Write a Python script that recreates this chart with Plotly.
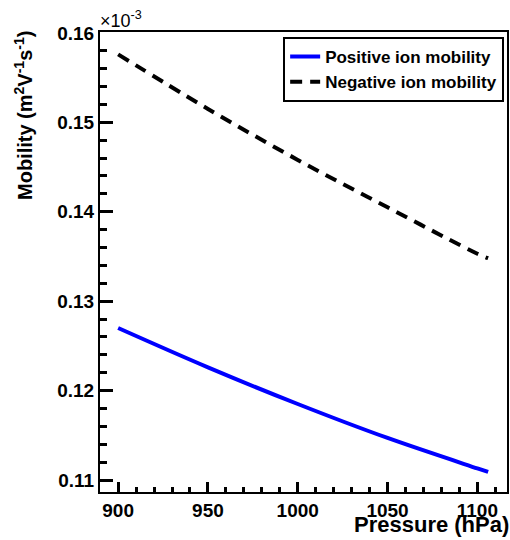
import plotly.graph_objects as go

pressure = [900, 950, 1000, 1050, 1100, 1106]
positive_mobility = [0.1270, 0.1226, 0.1185, 0.1147, 0.1113, 0.1109]
negative_mobility = [0.1576, 0.1515, 0.1458, 0.1405, 0.1353, 0.1348]
x_ticks = [900, 950, 1000, 1050, 1100]
y_ticks = [0.11, 0.12, 0.13, 0.14, 0.15, 0.16]
x_range = [889.9, 1116.5]
y_range = [0.10866, 0.1601]

FONT = "Liberation Sans"

fig = go.Figure()
fig.add_trace(go.Scatter(x=pressure, y=positive_mobility, mode="lines",
                         name="<b>Positive ion mobility</b>",
                         line=dict(color="#0000ff", width=4, shape="spline")))
fig.add_trace(go.Scatter(x=pressure, y=negative_mobility, mode="lines",
                         name="<b>Negative ion mobility</b>",
                         line=dict(color="black", width=4, dash="12px,8px", shape="spline")))

tick_font = dict(family=FONT, size=19, color="black")

fig.update_layout(
    xaxis=dict(range=x_range, tickmode="array", tickvals=x_ticks,
               ticktext=[f"<b>{v}</b>" for v in x_ticks],
               ticks="inside", ticklen=10, tickwidth=3, tickcolor="black",
               minor=dict(dtick=10, tick0=x_ticks[0], ticks="inside", ticklen=5,
                          tickwidth=3, tickcolor="black", showgrid=False),
               showline=True, linecolor="black", linewidth=2, mirror=True,
               showgrid=False, zeroline=False, tickfont=tick_font, layer="above traces"),
    yaxis=dict(range=y_range, tickmode="array", tickvals=y_ticks,
               ticktext=[f"<b>{v:.2f}</b>" for v in y_ticks],
               ticks="inside", ticklen=13, tickwidth=3, tickcolor="black",
               minor=dict(dtick=0.002, tick0=y_ticks[0], ticks="inside", ticklen=7,
                          tickwidth=3, tickcolor="black", showgrid=False),
               showline=True, linecolor="black", linewidth=2, mirror=True,
               showgrid=False, zeroline=False, tickfont=tick_font, layer="above traces"),
    width=510, height=540,
    margin=dict(l=100, r=1, t=32, b=48),
    paper_bgcolor="white", plot_bgcolor="white",
    font=dict(family=FONT, color="black"),
    legend=dict(x=0.993, y=0.989, xanchor="right", yanchor="top",
                bordercolor="black", borderwidth=2, bgcolor="white",
                font=dict(family=FONT, size=17, color="black"),
                tracegroupgap=0),
    annotations=[
        dict(text="<b>Mobility (m<sup>2</sup>V<sup>-1</sup>s<sup>-1</sup>)</b>",
             xref="paper", yref="paper", x=-0.188, y=1.0065, xanchor="center", yanchor="top",
             textangle=-90, showarrow=False, font=dict(family=FONT, size=20, color="black")),
        dict(text="<b>Pressure (hPa)</b>", xref="paper", yref="paper",
             x=1.01, y=-0.103, xanchor="right", yanchor="bottom", showarrow=False,
             font=dict(family=FONT, size=22, color="black")),
        dict(text="×10<sup>-3</sup>", xref="paper", yref="paper", x=-0.005, y=0.998,
             xanchor="left", yanchor="bottom", showarrow=False,
             font=dict(family=FONT, size=18, color="black")),
    ],
)

fig.write_html("out.html")
